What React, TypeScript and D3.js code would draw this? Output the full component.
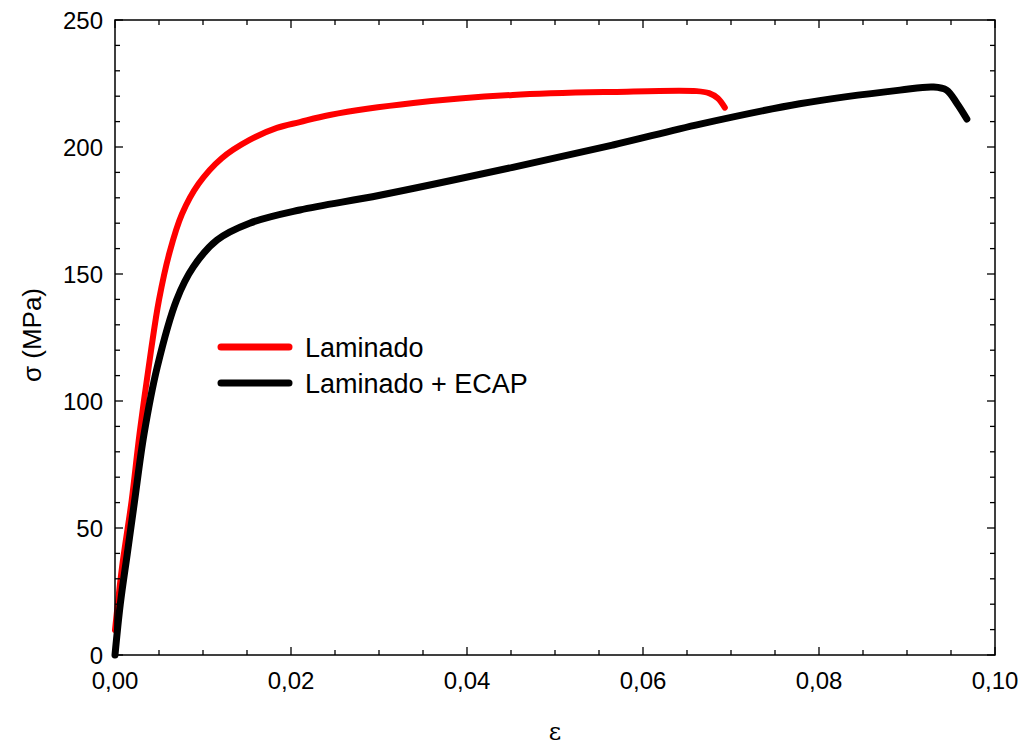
import React, { useEffect, useRef } from "react";
import * as d3 from "d3";

// Laminado (red) – strain, stress (MPa)
const laminadoStrain = [0, 0.0008, 0.0019, 0.0028, 0.0041, 0.005, 0.0062, 0.0076, 0.0095, 0.0121, 0.0153, 0.0184, 0.021, 0.0244, 0.0339, 0.0452, 0.0566, 0.0661, 0.0675, 0.0685, 0.0693];
const laminadoStress = [9.8, 34.6, 61, 87.4, 120, 139.8, 158.5, 173.5, 185.5, 195.5, 202.8, 207.5, 209.8, 212.6, 217.3, 220.5, 221.7, 222, 221.2, 219.2, 215.5];

// Laminado + ECAP (black)
const ecapStrain = [0, 0.0006, 0.0014, 0.0022, 0.0033, 0.0048, 0.007, 0.0089, 0.0116, 0.0153, 0.021, 0.0301, 0.0452, 0.0566, 0.0665, 0.0778, 0.0892, 0.093, 0.0945, 0.0957, 0.0968];
const ecapStress = [0, 20, 40, 60, 87, 113.4, 139.8, 152.8, 163.4, 170, 175.2, 181, 192, 200.8, 209, 217, 222.4, 223.6, 222.4, 217, 211];

const xTicks = [0, 0.02, 0.04, 0.06, 0.08, 0.1];
const yTicks = [0, 50, 100, 150, 200, 250];
const seriesNames = ["Laminado", "Laminado + ECAP"];
const seriesColors = ["#ff0000", "#000000"];

const W = 1025;
const H = 748;
const m = { left: 115, top: 20, right: 995, bottom: 655 };

export default function App() {
  const ref = useRef<SVGGElement>(null);

  useEffect(() => {
    const g = d3.select(ref.current);
    g.selectAll("*").remove();

    const x = d3.scaleLinear().domain([0, 0.1]).range([m.left, m.right]);
    const y = d3.scaleLinear().domain([0, 250]).range([m.bottom, m.top]);
    const font = "'Liberation Sans', Arial, sans-serif";
    const fmt = (v: number) => d3.format(".2f")(v).replace(".", ",");

    const line = d3
      .line<[number, number]>()
      .x(d => x(d[0]))
      .y(d => y(d[1]))
      .curve(d3.curveCatmullRom.alpha(0.5));

    const series = [
      d3.zip(laminadoStrain, laminadoStress) as [number, number][],
      d3.zip(ecapStrain, ecapStress) as [number, number][],
    ];
    series.forEach((s, i) => {
      g.append("path")
        .attr("d", line(s))
        .attr("fill", "none")
        .attr("stroke", seriesColors[i])
        .attr("stroke-width", i === 0 ? 6 : 7)
        .attr("stroke-linecap", "round")
        .attr("stroke-linejoin", "round");
    });

    // frame
    g.append("rect")
      .attr("x", x(0))
      .attr("y", y(250))
      .attr("width", x(0.1) - x(0))
      .attr("height", y(0) - y(250))
      .attr("fill", "none")
      .attr("stroke", "#000")
      .attr("stroke-width", 1.5);

    // ticks
    const ticks = g.append("g").attr("stroke", "#000").attr("stroke-width", 1.3);
    d3.range(0, 0.1001, 0.005).forEach((v, i) => {
      const len = i % 4 === 0 ? 8 : 5;
      const px = x(v);
      ticks.append("line").attr("x1", px).attr("x2", px).attr("y1", y(0)).attr("y2", y(0) - len);
      ticks.append("line").attr("x1", px).attr("x2", px).attr("y1", y(250)).attr("y2", y(250) + len);
    });
    d3.range(0, 251, 10).forEach((v, i) => {
      const len = i % 5 === 0 ? 8 : 5;
      const py = y(v);
      ticks.append("line").attr("x1", x(0)).attr("x2", x(0) + len).attr("y1", py).attr("y2", py);
      ticks.append("line").attr("x1", x(0.1)).attr("x2", x(0.1) - len).attr("y1", py).attr("y2", py);
    });

    g.selectAll("text.xt")
      .data(xTicks)
      .enter()
      .append("text")
      .attr("x", d => x(d))
      .attr("y", y(0) + 34)
      .attr("text-anchor", "middle")
      .style("font-family", font)
      .style("font-size", "24px")
      .text(d => fmt(d));

    g.selectAll("text.yt")
      .data(yTicks)
      .enter()
      .append("text")
      .attr("x", x(0) - 12)
      .attr("y", d => y(d))
      .attr("dy", "0.36em")
      .attr("text-anchor", "end")
      .style("font-family", font)
      .style("font-size", "24px")
      .text(d => String(d));

    g.append("text")
      .attr("x", (x(0) + x(0.1)) / 2)
      .attr("y", 740)
      .attr("text-anchor", "middle")
      .style("font-family", "'DejaVu Serif', serif")
      .style("font-size", "24px")
      .text("ε");

    g.append("text")
      .attr("transform", `translate(41, 335) rotate(-90)`)
      .attr("text-anchor", "middle")
      .style("font-family", font)
      .style("font-size", "26px")
      .text("σ (MPa)");

    // legend
    seriesNames.forEach((name, i) => {
      const ly = 347 + i * 36;
      g.append("line")
        .attr("x1", 221)
        .attr("x2", 289)
        .attr("y1", ly)
        .attr("y2", ly)
        .attr("stroke", seriesColors[i])
        .attr("stroke-width", 7)
        .attr("stroke-linecap", "round");
      g.append("text")
        .attr("x", 305)
        .attr("y", ly)
        .attr("dy", "0.36em")
        .style("font-family", font)
        .style("font-size", "27px")
        .text(name);
    });
  }, []);

  return (
    <svg width={W} height={H} style={{ display: "block", position: "absolute", left: 0, top: 0, background: "#fff" }}>
      <g ref={ref} />
    </svg>
  );
}
